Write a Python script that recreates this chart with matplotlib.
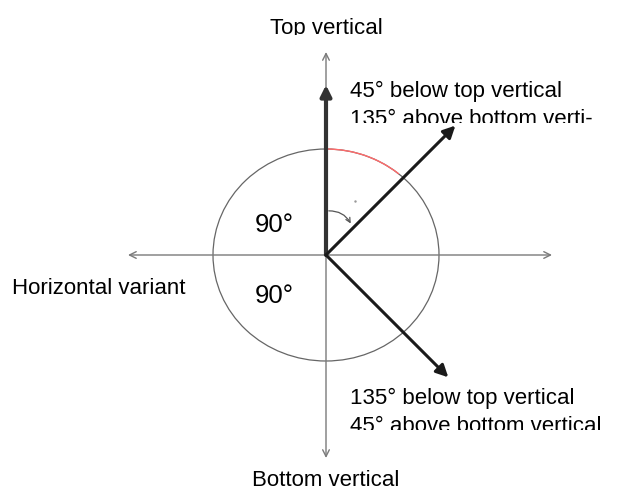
import matplotlib
matplotlib.use("Agg")
import matplotlib.pyplot as plt
from matplotlib.patches import Ellipse, Arc, FancyArrowPatch
from matplotlib.transforms import Bbox
import numpy as np

plt.rcParams['font.family'] = ['Liberation Sans', 'DejaVu Sans']

# angles measured from top vertical (degrees)
arrow_angles = [45, 135]
arrow_lengths = [183, 173]
angle_labels = ["90°", "90°"]
texts_upper = ["45° below top vertical", "135° above bottom verti-"]
texts_lower = ["135° below top vertical", "45° above bottom vertical"]

W, H = 622, 492
fig = plt.figure(figsize=(W / 100, H / 100), dpi=100)
ax = fig.add_axes([0, 0, 1, 1])
ax.set_xlim(0, W)
ax.set_ylim(H, 0)
ax.axis('off')

cx, cy = 326, 255
gray = '#7a7a7a'

# ellipse
ax.add_patch(Ellipse((cx, cy), 226, 212, fill=False, ec='#666666', lw=0.9))
# red arc from top towards upper-right
ax.add_patch(Arc((cx, cy), 226, 212, theta1=-90, theta2=-48, ec='#ff6b6b', lw=1.0))

# thin axes with open arrowheads
def thin_arrow(x0, y0, x1, y1):
    ax.annotate('', xy=(x1, y1), xytext=(x0, y0),
                arrowprops=dict(arrowstyle='->', color=gray, lw=1.0,
                                mutation_scale=12, shrinkA=0, shrinkB=0))

thin_arrow(cx, cy, 128, cy)
thin_arrow(cx, cy, 552, cy)
thin_arrow(cx, cy, cx, 52)
thin_arrow(cx, cy, cx, 458)

# thick vertical arrow
ax.annotate('', xy=(cx, 85), xytext=(cx, cy),
            arrowprops=dict(arrowstyle='-|>', color='#333333', lw=3,
                            mutation_scale=16, shrinkA=0, shrinkB=0))

# diagonal arrows
for ang, L in zip(arrow_angles, arrow_lengths):
    t = np.radians(ang)
    x1 = cx + L * np.sin(t)
    y1 = cy - L * np.cos(t)
    ax.annotate('', xy=(x1, y1), xytext=(cx, cy),
                arrowprops=dict(arrowstyle='-|>', color='#1a1a1a', lw=2.2,
                                mutation_scale=18, shrinkA=0, shrinkB=0))

# small curved arrow
ax.add_patch(FancyArrowPatch((cx, 211), (352, 226),
                             connectionstyle='arc3,rad=-0.35',
                             arrowstyle='->', color='#555555', lw=0.9,
                             mutation_scale=8))
ax.plot([355], [201], marker='.', ms=1.5, color='#999999')

FS = 16

def clipped_text(x, y, s, top, bottom, **kw):
    t = ax.text(x, y, s, fontsize=FS, color='black', clip_on=True, **kw)
    t.set_clip_box(Bbox.from_extents(0, H - bottom, W, H - top))
    return t

clipped_text(cx, 34, "Top vertical", 0, 35, ha='center', va='baseline')
clipped_text(350, 97, texts_upper[0], 0, 200, ha='left', va='baseline')
clipped_text(350, 125, texts_upper[1], 0, 123, ha='left', va='baseline')
clipped_text(350, 404, texts_lower[0], 300, 492, ha='left', va='baseline')
clipped_text(350, 432, texts_lower[1], 300, 430, ha='left', va='baseline')
ax.text(12, 294, "Horizontal variant", fontsize=FS, ha='left', va='baseline')
ax.text(326, 486, "Bottom vertical", fontsize=FS, ha='center', va='baseline')
ax.text(255, 232, angle_labels[0], fontsize=18.5, ha='left', va='baseline')
ax.text(255, 303, angle_labels[1], fontsize=18.5, ha='left', va='baseline')

fig.savefig('out.png', dpi=100)
